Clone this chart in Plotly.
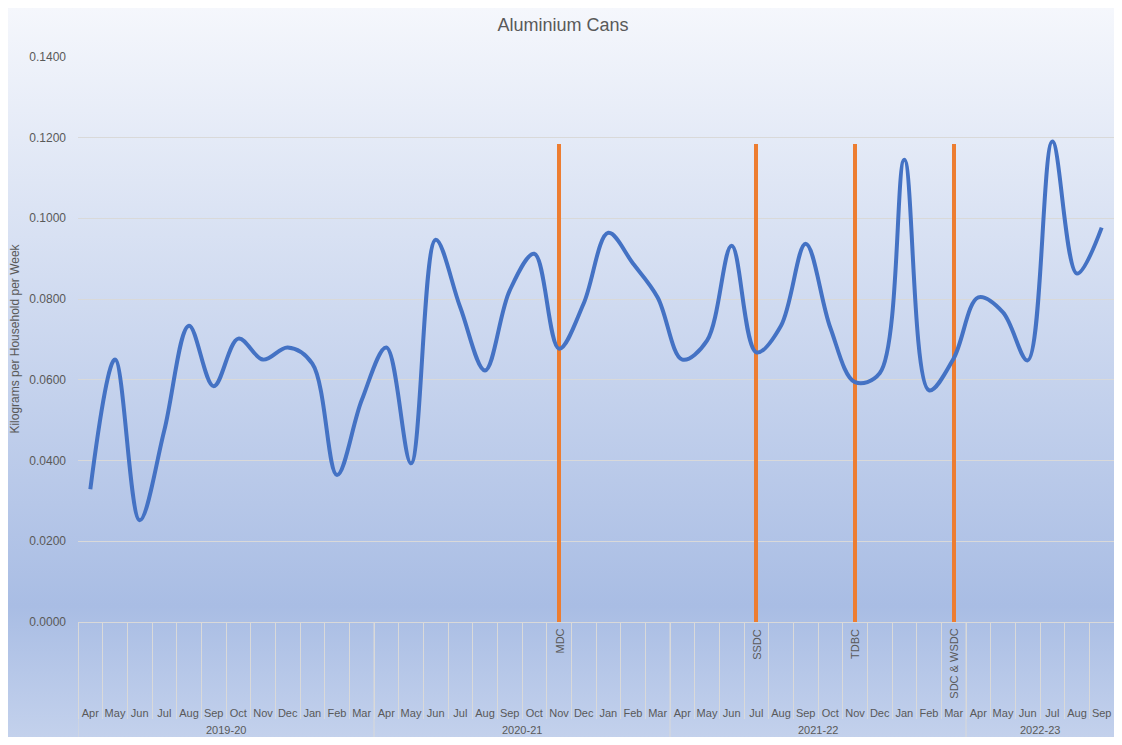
import base64
import plotly.graph_objects as go

# ---------------- data ----------------
months = ["Apr", "May", "Jun", "Jul", "Aug", "Sep", "Oct", "Nov", "Dec", "Jan", "Feb", "Mar",
          "Apr", "May", "Jun", "Jul", "Aug", "Sep", "Oct", "Nov", "Dec", "Jan", "Feb", "Mar",
          "Apr", "May", "Jun", "Jul", "Aug", "Sep", "Oct", "Nov", "Dec", "Jan", "Feb", "Mar",
          "Apr", "May", "Jun", "Jul", "Aug", "Sep"]
years = ["2019-20", "2020-21", "2021-22", "2022-23"]
year_counts = [12, 12, 12, 6]
kg_per_household = [0.0329, 0.0650, 0.0252, 0.0475, 0.0734, 0.0584, 0.0702, 0.0650, 0.0680, 0.0640,
                    0.0364, 0.0549, 0.0680, 0.0393, 0.0947, 0.0779, 0.0623, 0.0821, 0.0912, 0.0677,
                    0.0789, 0.0964, 0.0888, 0.0804, 0.0650, 0.0697, 0.0932, 0.0668, 0.0734, 0.0937,
                    0.0729, 0.0594, 0.0616, 0.1145, 0.0574, 0.0653, 0.0804, 0.0767, 0.0648, 0.1190,
                    0.0863, 0.0977]
marker_labels = ["MDC", "SSDC", "TDBC", "SDC & WSDC"]
marker_index = [19, 27, 31, 35]
marker_height = 0.1185
y_ticks = [0.0, 0.02, 0.04, 0.06, 0.08, 0.10, 0.12, 0.14]

# ---------------- layout geometry ----------------
# the page body adds an 8px margin on every side; fit the figure inside it
OFF = 8
W, H = 1122 - 2 * OFF, 745 - 2 * OFF
ML, MR, MT = 78 - OFF, 0, 56 - OFF
MB = H - (622 - OFF)
PW, PH = W - ML - MR, H - MT - MB

x_idx = list(range(len(months)))
bar_vals = [marker_height if i in marker_index else None for i in x_idx]

fig = go.Figure()
fig.add_trace(go.Bar(x=x_idx, y=bar_vals, width=0.16, marker=dict(color="#ed7d31", line=dict(width=0)),
                     showlegend=False, hoverinfo="skip"))
fig.add_trace(go.Scatter(x=x_idx, y=kg_per_household, mode="lines",
                         line=dict(color="#4472c4", width=4, shape="spline", smoothing=1.0),
                         showlegend=False))

# background gradient (Excel-like)
svg = ("<svg xmlns='http://www.w3.org/2000/svg' viewBox='0 0 1 1' preserveAspectRatio='none'>"
       "<defs><linearGradient id='g' x1='0' y1='0' x2='0' y2='1'>"
       "<stop offset='0' stop-color='#f5f7fc'/>"
       "<stop offset='0.82' stop-color='#a9bde4'/>"
       "<stop offset='1' stop-color='#c3d1ec'/>"
       "</linearGradient></defs><rect x='0' y='0' width='1' height='1' fill='url(#g)'/></svg>")
src = "data:image/svg+xml;base64," + base64.b64encode(svg.encode()).decode()
fig.add_layout_image(dict(source=src, xref="paper", yref="paper",
                          x=-ML / PW, y=1 + MT / PH, sizex=W / PW, sizey=H / PH,
                          sizing="stretch", xanchor="left", yanchor="top", layer="below"))

# year dividers and year labels
start = 0
for yr, n in zip(years, year_counts):
    fig.add_shape(type="line", xref="x", yref="paper", x0=start - 0.5, x1=start - 0.5,
                  y0=0, y1=-MB / PH, line=dict(color="#d9d9d9", width=1))
    fig.add_annotation(x=start + (n - 1) / 2, y=0, xref="x", yref="paper", yanchor="middle",
                       yshift=-108, text=yr, showarrow=False,
                       font=dict(family="Liberation Sans, Arial", size=11, color="#595959"))
    start += n

# provider labels
for lab, i in zip(marker_labels, marker_index):
    fig.add_annotation(x=i, y=0, xref="x", yref="paper", yanchor="top", xanchor="center",
                       yshift=-5, text=lab, textangle=-90, showarrow=False,
                       font=dict(family="Liberation Sans, Arial", size=11, color="#595959"))

fig.update_layout(
    width=W, height=H,
    margin=dict(l=ML, r=MR, t=MT, b=MB, pad=0),
    paper_bgcolor="white", plot_bgcolor="rgba(0,0,0,0)",
    title=dict(text="Aluminium Cans", x=(563 - OFF) / W, xref="container", xanchor="center",
               y=1 - (25 - OFF) / H, yref="container", yanchor="middle",
               font=dict(family="Liberation Sans, Arial", size=18, color="#595959")),
    bargap=0,
    font=dict(family="Liberation Sans, Arial", color="#595959"),
    xaxis=dict(range=[-0.5, len(months) - 0.5], tickmode="array", tickvals=x_idx, ticktext=months,
               ticks="", showgrid=False, zeroline=False, showline=True, linecolor="#d9d9d9",
               tickfont=dict(size=11, color="#595959"), ticklabelstandoff=81,
               minor=dict(tickmode="linear", tick0=-0.5, dtick=1, ticks="outside", ticklen=96,
                          tickcolor="#d9d9d9", tickwidth=1, showgrid=False)),
    yaxis=dict(range=[0, 0.1402], tickmode="array", tickvals=y_ticks, tickformat=".4f",
               showgrid=True, gridcolor="#d9d9d9", gridwidth=1, zeroline=False, showline=False,
               ticks="", tickfont=dict(size=12, color="#595959"), ticklabelstandoff=11,
               title=dict(text="Kilograms per Household per Week", standoff=8,
                          font=dict(size=12, color="#595959"))),
)

fig.write_html("out.html")
